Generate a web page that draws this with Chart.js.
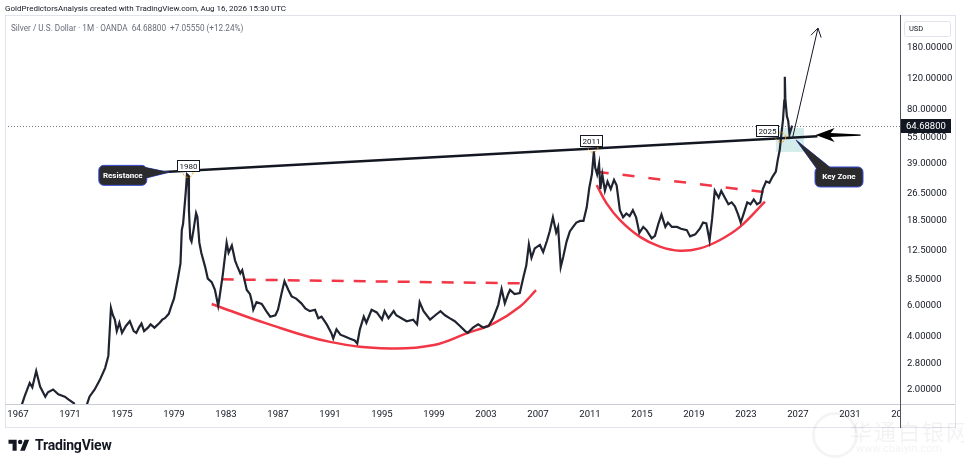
<!DOCTYPE html>
<html>
<head>
<meta charset="utf-8">
<title>Silver / U.S. Dollar 1M</title>
<script src="https://cdn.jsdelivr.net/npm/chart.js@4.4.0/dist/chart.umd.min.js"></script>
<style>
  body { margin: 0; background: #fff; font-family: Roboto, "Noto Sans", sans-serif; }
  #wrap { position: relative; width: 964px; height: 466px; overflow: hidden; }
  #silverChart { position: absolute; left: 0; top: 0; }
  .hdr { position: absolute; left: 5px; top: 4px; font-size: 8px; color: #131722; white-space: nowrap; }
  .legend { position: absolute; left: 11px; top: 23px; font-size: 8.2px; color: #6a6d78; white-space: nowrap; }
  .brand { position: absolute; left: 8px; top: 437px; display: flex; align-items: center; gap: 5px;
           font-size: 14px; font-weight: 700; color: #131722; letter-spacing: -0.2px; }
  .wm { position: absolute; left: 812px; top: 410px; color: rgba(0,0,0,0.05); white-space: nowrap; }
  .wm .cn { position: absolute; left: 38px; top: 4px; font-size: 22px; font-family: "Noto Sans CJK SC", sans-serif; letter-spacing: 2px; }
  .wm .url { position: absolute; left: 44px; top: 32px; font-size: 11px; }
  .wm .ring { position: absolute; left: 0; top: 2px; width: 40px; height: 40px; border: 3px solid rgba(0,0,0,0.045); border-radius: 50%; }
</style>
</head>
<body>
<div id="wrap">
  <canvas id="silverChart" width="964" height="466"></canvas>
  <div class="hdr">GoldPredictorsAnalysis created with TradingView.com, Aug 16, 2026 15:30 UTC</div>
  <div class="legend">Silver / U.S. Dollar · 1M · OANDA&nbsp; 64.68800&nbsp; +7.05550 (+12.24%)</div>
  <div class="wm"><div class="ring"></div><div class="cn">华通白银网</div><div class="url">www.cbaiyin.com</div></div>
  <div class="brand">
    <svg width="22" height="14" viewBox="0 0 36 24"><path d="M14 22H7V10H0V3h14v19zM28 22h-8l7.5-19h8L28 22z" fill="#131722"/><circle cx="20" cy="7" r="3.8" fill="#131722"/></svg>
    <span>TradingView</span>
  </div>
</div>
<script>
// monthly closes (decimal year -> USD)
const priceDates = [
  1966.1, 1966.6, 1967.2, 1967.5, 1967.9, 1968.1, 1968.4, 1968.7, 1969.1, 1969.3,
  1969.7, 1970.1, 1970.6, 1970.9, 1971.3, 1971.6, 1971.9, 1972.2, 1972.5, 1972.9,
  1973.3, 1973.7, 1973.95, 1974.15, 1974.3, 1974.45, 1974.6, 1974.8, 1975.0, 1975.3,
  1975.6, 1975.9, 1976.1, 1976.3, 1976.5, 1976.7, 1977.0, 1977.2, 1977.5, 1977.9,
  1978.1, 1978.3, 1978.6, 1978.8, 1979.0, 1979.1, 1979.3, 1979.5, 1979.6, 1979.7,
  1979.9, 1980.0, 1980.1, 1980.15, 1980.25, 1980.35, 1980.5, 1980.7, 1980.8, 1980.95,
  1981.1, 1981.4, 1981.6, 1981.9, 1982.15, 1982.4, 1982.5, 1982.75, 1983.05, 1983.2,
  1983.45, 1983.7, 1983.85, 1984.1, 1984.25, 1984.6, 1984.85, 1985.0, 1985.1, 1985.35,
  1985.75, 1986.1, 1986.4, 1986.8, 1987.0, 1987.3, 1987.5, 1987.8, 1988.05, 1988.4,
  1988.8, 1989.1, 1989.45, 1989.85, 1990.1, 1990.35, 1990.75, 1991.1, 1991.25, 1991.5,
  1991.8, 1992.15, 1992.5, 1992.9, 1993.1, 1993.3, 1993.6, 1993.8, 1994.2, 1994.6,
  1995.0, 1995.2, 1995.5, 1995.9, 1996.1, 1996.5, 1996.9, 1997.4, 1997.7, 1997.9,
  1998.2, 1998.7, 1999.1, 1999.5, 1999.85, 2000.2, 2000.6, 2001.0, 2001.4, 2001.6,
  2002.0, 2002.4, 2002.8, 2003.2, 2003.55, 2003.95, 2004.2, 2004.45, 2004.7, 2004.85,
  2005.2, 2005.6, 2005.9, 2006.1, 2006.3, 2006.5, 2006.75, 2007.15, 2007.4, 2007.7,
  2007.9, 2008.15, 2008.4, 2008.55, 2008.75, 2008.95, 2009.2, 2009.45, 2009.7, 2009.95,
  2010.25, 2010.5, 2010.75, 2010.95, 2011.15, 2011.3, 2011.4, 2011.55, 2011.7, 2011.8,
  2011.95, 2012.15, 2012.35, 2012.6, 2012.85, 2013.05, 2013.3, 2013.55, 2013.8, 2014.05,
  2014.3, 2014.55, 2014.8, 2015.1, 2015.35, 2015.75, 2016.0, 2016.25, 2016.5, 2016.8,
  2017.0, 2017.3, 2017.7, 2018.0, 2018.45, 2018.7, 2019.1, 2019.45, 2019.7, 2019.95,
  2020.2, 2020.4, 2020.6, 2020.9, 2021.1, 2021.4, 2021.65, 2021.9, 2022.15, 2022.4,
  2022.6, 2022.85, 2023.1, 2023.35, 2023.6, 2023.85, 2024.1, 2024.3, 2024.55, 2024.8,
  2025.05, 2025.3, 2025.45, 2025.6, 2025.7, 2025.85, 2025.95, 2025.99, 2026.03, 2026.15,
  2026.25, 2026.35, 2026.45, 2026.55
];
const priceValues = [
  1.30, 1.45, 1.55, 1.81, 2.17, 2.05, 2.54, 2.07, 1.81, 1.92,
  1.99, 1.87, 1.81, 1.74, 1.66, 1.45, 1.38, 1.55, 1.81, 1.99,
  2.26, 2.64, 3.10, 5.83, 5.30, 5.00, 4.30, 4.80, 4.20, 4.60,
  4.90, 4.30, 4.20, 4.50, 4.75, 4.30, 4.50, 4.70, 4.50, 4.80,
  5.00, 5.10, 5.40, 6.00, 6.60, 7.20, 8.60, 10.5, 16.3, 17.7,
  26.6, 34.0, 33.5, 21.2, 14.6, 14.0, 16.3, 20.4, 19.4, 13.8,
  12.1, 10.0, 8.6, 8.2, 7.4, 6.0, 6.7, 9.0, 13.8, 12.1,
  13.3, 10.9, 10.2, 9.2, 9.6, 7.4, 7.0, 6.3, 5.7, 6.3,
  6.15, 5.6, 5.2, 5.3, 5.7, 7.2, 8.3, 7.4, 6.8, 6.6,
  6.2, 5.8, 5.6, 5.7, 5.1, 5.2, 4.7, 4.2, 3.9, 4.4,
  4.1, 4.0, 3.9, 3.8, 3.65, 4.4, 5.2, 4.8, 5.7, 5.5,
  5.0, 5.6, 5.1, 5.6, 5.3, 5.1, 4.9, 5.0, 4.7, 6.3,
  5.6, 5.0, 5.3, 5.6, 5.3, 5.1, 4.9, 4.6, 4.3, 4.2,
  4.5, 4.7, 4.5, 4.6, 5.1, 6.1, 7.5, 6.2, 7.0, 7.4,
  7.0, 7.1, 8.9, 10.2, 13.5, 11.3, 12.8, 13.4, 12.2, 14.2,
  16.0, 19.3, 15.8, 17.0, 10.0, 11.5, 14.0, 16.0, 17.0, 18.0,
  18.4, 18.4, 22.0, 28.5, 34.1, 46.0, 37.2, 34.0, 39.0, 28.0,
  34.0, 27.4, 30.9, 28.0, 31.6, 29.4, 21.2, 19.3, 20.3, 19.6,
  21.2, 19.3, 15.7, 17.0, 16.3, 14.6, 15.1, 17.6, 20.0, 17.0,
  18.0, 17.0, 17.0, 16.6, 16.3, 15.0, 15.4, 16.6, 18.0, 17.8,
  14.2, 19.0, 27.4, 25.0, 27.3, 24.8, 22.9, 23.5, 22.3, 20.0,
  18.0, 20.5, 23.5, 22.9, 24.4, 22.9, 23.5, 28.0, 31.0, 30.4,
  33.0, 35.3, 41.3, 47.0, 55.5, 70.0, 90.0, 123, 92.0, 73.0,
  69.0, 57.6, 61.0, 64.688
];
const lastPrice = 64.688;

const yearTicks = [1967, 1971, 1975, 1979, 1983, 1987, 1991, 1995, 1999, 2003, 2007, 2011, 2015, 2019, 2023, 2027, 2031];
const priceTicks = [2, 2.8, 4, 6, 8.5, 12.5, 18.5, 26.5, 39, 55, 80, 120, 180];

// drawings
const resistanceDates = [1977.9, 2028.5];
const resistanceValues = [34.9, 56.2];
const neck1Dates = [1982.67, 2006.0];
const neck1Values = [8.51, 8.07];
const neck2Dates = [2011.52, 2025.1];
const neck2Values = [35.2, 26.5];
const cup1Dates = [1981.9, 1986.1, 1991.0, 1995.6, 1999.0, 2001.5, 2003.6, 2005.6, 2006.85];
const cup1Values = [6.15, 4.76, 3.73, 3.42, 3.58, 4.17, 4.76, 5.93, 7.38];
const cup2Dates = [2011.52, 2012.28, 2013.31, 2014.85, 2016.38, 2017.92, 2019.46, 2021.0, 2022.54, 2024.46];
const cup2Values = [29.5, 23.2, 18.6, 14.9, 13.1, 12.4, 12.8, 14.3, 17.0, 23.7];

const peakLabels = ['1980', '2011', '2025'];
const peakDates = [1980.08, 2011.23, 2025.67];
const peakValues = [34.9, 48.6, 55.5];

const keyZoneDates = [2025.3, 2027.46];
const keyZoneValues = [45.7, 62.6];
const upArrowDates = [2026.6, 2028.54];
const upArrowValues = [55.6, 234];
const pointerDates = [2028.36, 2031.82];
const pointerValues = [57.1, 57.1];
const resistanceTip = [1978.6, 34.9];
const keyZoneTip = [2026.85, 53.5];

const pts = (ds, vs) => ds.map((d, i) => ({ x: d, y: vs[i] }));

function callout(ctx, box, tail, text) {
    ctx.fillStyle = '#2b2b2e';
    ctx.strokeStyle = '#3c4fd6';
    ctx.lineWidth = 1;
    ctx.beginPath();
    ctx.moveTo(tail[0][0], tail[0][1]);
    ctx.lineTo(tail[1][0], tail[1][1]);
    ctx.lineTo(tail[2][0], tail[2][1]);
    ctx.closePath();
    ctx.fill();
    ctx.stroke();
    ctx.beginPath();
    ctx.roundRect(box[0], box[1], box[2], box[3], 5);
    ctx.fill();
    ctx.stroke();
    // cover the seam between tail and box
    ctx.beginPath();
    ctx.moveTo(tail[0][0], tail[0][1]);
    ctx.lineTo(tail[1][0], tail[1][1]);
    ctx.lineTo(tail[2][0], tail[2][1]);
    ctx.closePath();
    ctx.fill();
    ctx.fillStyle = '#fff';
    ctx.font = 'bold 8px Roboto';
    ctx.textAlign = 'center';
    ctx.textBaseline = 'middle';
    ctx.fillText(text, box[0] + box[2] / 2, box[1] + box[3] / 2 + 0.5);
}

const overlay = {
    id: 'overlay',
    beforeDatasetsDraw(chart) {
        const { ctx, chartArea: a, scales: { x, y } } = chart;
        ctx.save();
        // key zone box
        const zx0 = x.getPixelForValue(keyZoneDates[0]), zx1 = x.getPixelForValue(keyZoneDates[1]);
        const zy0 = y.getPixelForValue(keyZoneValues[1]), zy1 = y.getPixelForValue(keyZoneValues[0]);
        ctx.fillStyle = 'rgba(38,166,154,0.2)';
        ctx.fillRect(zx0, zy0, zx1 - zx0, zy1 - zy0);
        // last price line
        const py = Math.round(y.getPixelForValue(lastPrice)) + 0.5;
        ctx.strokeStyle = '#787b86';
        ctx.lineWidth = 1;
        ctx.setLineDash([1, 2]);
        ctx.beginPath();
        ctx.moveTo(a.left, py);
        ctx.lineTo(a.right, py);
        ctx.stroke();
        ctx.restore();
    },
    afterDatasetsDraw(chart) {
        const { ctx, scales: { x, y } } = chart;
        ctx.save();

        // thin projection arrow
        const ax0 = x.getPixelForValue(upArrowDates[0]), ay0 = y.getPixelForValue(upArrowValues[0]);
        const ax1 = x.getPixelForValue(upArrowDates[1]), ay1 = y.getPixelForValue(upArrowValues[1]);
        ctx.strokeStyle = '#131722';
        ctx.lineWidth = 1;
        ctx.beginPath();
        ctx.moveTo(ax0, ay0);
        ctx.lineTo(ax1, ay1);
        const ang = Math.atan2(ay1 - ay0, ax1 - ax0);
        for (const s of [-1, 1]) {
            ctx.moveTo(ax1, ay1);
            ctx.lineTo(ax1 - 10 * Math.cos(ang + s * 0.55), ay1 - 10 * Math.sin(ang + s * 0.55));
        }
        ctx.stroke();

        // big pointer arrow
        const tx = x.getPixelForValue(pointerDates[0]), ty = y.getPixelForValue(pointerValues[0]);
        const ex = x.getPixelForValue(pointerDates[1]);
        const len = ex - tx;
        ctx.fillStyle = '#000';
        ctx.beginPath();
        ctx.moveTo(tx, ty);
        ctx.lineTo(tx + 19, ty - 7);
        ctx.lineTo(tx + 15, ty - 2);
        ctx.lineTo(tx + len, ty - 0.6);
        ctx.lineTo(tx + len, ty + 0.6);
        ctx.lineTo(tx + 15, ty + 2);
        ctx.lineTo(tx + 19, ty + 7);
        ctx.closePath();
        ctx.fill();

        // peak markers with year boxes
        peakLabels.forEach((lab, i) => {
            const px = x.getPixelForValue(peakDates[i]), py = y.getPixelForValue(peakValues[i]);
            ctx.strokeStyle = '#ff9800';
            ctx.setLineDash([2, 2]);
            ctx.lineWidth = 1;
            ctx.beginPath();
            ctx.arc(px, py, 5, 0, Math.PI * 2);
            ctx.stroke();
            ctx.setLineDash([]);
            const shift = i === 2 ? -14 : (i === 1 ? -2 : 0);
            const bx = Math.round(px + shift - 11) + 0.5, by = Math.round(py - 12) + 0.5;
            ctx.fillStyle = '#fff';
            ctx.fillRect(bx, by, 22, 11);
            ctx.strokeStyle = '#131722';
            ctx.strokeRect(bx, by, 22, 11);
            ctx.fillStyle = '#131722';
            ctx.font = '8px Roboto';
            ctx.textAlign = 'center';
            ctx.textBaseline = 'middle';
            ctx.fillText(lab, bx + 11, by + 6);
        });

        // callouts
        const rx = x.getPixelForValue(resistanceTip[0]), ry = y.getPixelForValue(resistanceTip[1]);
        callout(ctx, [rx - 70, ry - 7, 48, 20], [[rx - 24, ry - 5], [rx, ry], [rx - 24, ry + 6]], 'Resistance');
        const kx = x.getPixelForValue(keyZoneTip[0]), ky = y.getPixelForValue(keyZoneTip[1]);
        callout(ctx, [kx + 19, ky + 27, 48, 20], [[kx + 21, ky + 29], [kx, ky], [kx + 36, ky + 29]], 'Key Zone');

        ctx.restore();
    },
    afterDraw(chart) {
        const { ctx, chartArea: a, scales: { x, y } } = chart;
        ctx.save();
        // pane frame and axis lines
        ctx.strokeStyle = '#e0e3eb';
        ctx.lineWidth = 1;
        ctx.strokeRect(5.5, 15.5, 950, 412);
        ctx.strokeStyle = '#c9ccd3';
        ctx.beginPath();
        ctx.moveTo(a.left, a.bottom + 0.5);
        ctx.lineTo(955, a.bottom + 0.5);
        ctx.stroke();
        ctx.strokeStyle = '#50535e';
        ctx.beginPath();
        ctx.moveTo(a.right + 0.5, 15);
        ctx.lineTo(a.right + 0.5, 428);
        ctx.stroke();

        // clipped 2035 label
        ctx.save();
        ctx.beginPath();
        ctx.rect(0, a.bottom + 1, a.right, 30);
        ctx.clip();
        ctx.fillStyle = '#131722';
        ctx.font = '9.5px Roboto';
        ctx.textAlign = 'center';
        ctx.textBaseline = 'middle';
        ctx.fillText('2035', x.getPixelForValue(2035), a.bottom + 11);
        ctx.restore();

        // USD box
        ctx.strokeStyle = '#e0e3eb';
        ctx.beginPath();
        ctx.roundRect(904.5, 21.5, 46, 15, 2);
        ctx.stroke();
        ctx.fillStyle = '#131722';
        ctx.font = '7.5px Roboto';
        ctx.textAlign = 'left';
        ctx.textBaseline = 'middle';
        ctx.fillText('USD', 909, 29.5);

        // last price tag
        const py = Math.round(y.getPixelForValue(lastPrice));
        ctx.fillStyle = '#131722';
        ctx.fillRect(a.right + 1, py - 7, 50, 14);
        ctx.fillStyle = '#fff';
        ctx.font = '9.5px Roboto';
        ctx.fillText(lastPrice.toFixed(5), a.right + 6, py + 0.5);
        ctx.restore();
    }
};

const ctx = document.getElementById('silverChart').getContext('2d');
new Chart(ctx, {
    type: 'line',
    data: {
        datasets: [
            { data: pts(priceDates, priceValues), borderColor: '#1f2430', borderWidth: 2.2, pointRadius: 0, tension: 0, order: 1 },
            { data: pts(resistanceDates, resistanceValues), borderColor: '#131722', borderWidth: 2.5, pointRadius: 0, order: 0 },
            { data: pts(neck1Dates, neck1Values), borderColor: '#f23645', borderWidth: 2.5, borderDash: [12, 10], pointRadius: 0, order: 2 },
            { data: pts(neck2Dates, neck2Values), borderColor: '#f23645', borderWidth: 2.5, borderDash: [12, 14], pointRadius: 0, order: 2 },
            { data: pts(cup1Dates, cup1Values), borderColor: '#f23645', borderWidth: 2.5, pointRadius: 0, tension: 0.4, order: 2 },
            { data: pts(cup2Dates, cup2Values), borderColor: '#f23645', borderWidth: 2.5, pointRadius: 0, tension: 0.4, order: 2 }
        ]
    },
    options: {
        responsive: false,
        animation: false,
        devicePixelRatio: 1,
        layout: { padding: { left: 5, top: 16, right: 0, bottom: 40 } },
        plugins: { legend: { display: false }, tooltip: { enabled: false } },
        scales: {
            x: {
                type: 'linear',
                min: 1966.0,
                max: 2034.85,
                afterBuildTicks: s => { s.ticks = yearTicks.map(v => ({ value: v })); },
                afterFit: s => { s.height = 22; },
                grid: { display: false, drawTicks: false },
                border: { display: false },
                ticks: { padding: 5, color: '#131722', font: { family: 'Roboto', size: 9.5 }, maxRotation: 0, autoSkip: false, callback: v => String(v) }
            },
            y: {
                type: 'logarithmic',
                position: 'right',
                min: 1.644,
                max: 274.5,
                afterBuildTicks: s => { s.ticks = priceTicks.map(v => ({ value: v })); },
                afterFit: s => { s.width = 64; },
                grid: { display: false, drawTicks: false },
                border: { display: false },
                ticks: { padding: 7, color: '#131722', font: { family: 'Roboto', size: 9.5 }, callback: v => Number(v).toFixed(5) }
            }
        }
    },
    plugins: [overlay]
});
</script>
</body>
</html>
